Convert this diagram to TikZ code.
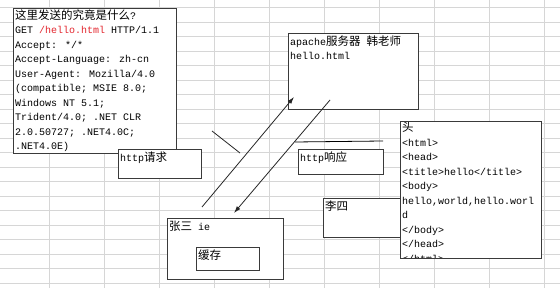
\documentclass[tikz,border=0pt]{standalone}
\usepackage{fontspec}
\setmainfont{Liberation Mono}
\newfontfamily\cjk{Noto Sans CJK SC}
\usetikzlibrary{arrows.meta}
\definecolor{gridgray}{HTML}{D6D6D6}
\definecolor{boxline}{HTML}{3A3A3A}
\definecolor{urlred}{HTML}{E3262E}
\newcommand{\zh}[1]{{\cjk\fontsize{11.5}{14.5}\selectfont #1}}

\begin{document}
\begin{tikzpicture}[
      x=1pt, y=-1pt,
      every node/.style={text=black},
      box/.style={
        draw=boxline, fill=white,
        line width=0.8pt,
        inner sep=0pt, outer sep=0pt,
        anchor=north west
      },
      txt/.style={
        anchor=north west,
        inner xsep=2pt, inner ysep=2.5pt,
        align=left,
        font=\fontsize{10}{14.5}\selectfont
      },
      link/.style={draw=black!85, line width=0.8pt},
      arrow/.style={link, -{Latex[length=7pt,width=4.5pt]}}
    ]
      \fill[white] (0,0) rectangle (560,288);
      \useasboundingbox (0,0) rectangle (560,288);
      % sheet grid
      \foreach \gx in {49,104,...,544}
        \draw[gridgray, line width=1pt] (\gx,0) -- (\gx,288);
      \foreach \gk in {0,...,19}
        \draw[gridgray, line width=1pt] (0,8+14.5*\gk) -- (560,8+14.5*\gk);

      % request
      \node[box, minimum width=163pt, minimum height=145pt] (req) at (13,8) {};
      \node[txt, inner ysep=1.5pt] (reqtxt) at (req.north west) {
        \zh{这里发送的究竟是什么}?\\
        GET {\color{urlred}/hello.html} HTTP/1.1\\
        Accept: */*\\
        Accept-Language: zh-cn\\
        User-Agent: Mozilla/4.0\\
        (compatible; MSIE 8.0;\\
        Windows NT 5.1;\\
        Trident/4.0; .NET CLR\\
        2.0.50727; .NET4.0C;\\
        .NET4.0E)
      };
      \node[box, minimum width=83pt, minimum height=29pt] (reqtag) at (118,149) {};
      \node[txt] (reqtagtxt) at (reqtag.north west) {http\zh{请求}};

      % server
      \node[box, minimum width=130pt, minimum height=76pt] (apache) at (288,33) {};
      \node[txt] (apachetxt) at (apache.north west) {
        apache\zh{服务器} \zh{韩老师}\\
        hello.html
      };

      % response
      \node[box, minimum width=85pt, minimum height=25pt] (resptag) at (298,149) {};
      \node[txt] (resptagtxt) at (resptag.north west) {http\zh{响应}};
      \node[box, minimum width=90pt, minimum height=39pt] (lisi) at (323,198) {};
      \node[txt] (lisitxt) at (lisi.north west) {\zh{李四}};
      \node[box, minimum width=141pt, minimum height=137pt] (resp) at (400,121) {};
      \begin{scope}
        \clip (resp.north west) rectangle (resp.south east);
        \node[txt, inner ysep=1pt] (resptxt) at (resp.north west) {
          \zh{头}\\
          <html>\\
          <head>\\
          <title>hello</title>\\
          <body>\\
          hello,world,hello.worl\\
          d\\
          </body>\\
          </head>\\
          </html>
        };
      \end{scope}
      \draw[boxline, line width=0.8pt] (resp.north west) rectangle (resp.south east);

      % browser
      \node[box, minimum width=116pt, minimum height=61pt] (zhang) at (167,218) {};
      \node[txt] (zhangtxt) at (zhang.north west) {\zh{张三} ie};
      \node[box, minimum width=63pt, minimum height=23pt] (cache) at (196,247) {};
      \node[txt] (cachetxt) at (cache.north west) {\zh{缓存}};

      % connectors
      \coordinate (upfoot) at (202,207);
      \coordinate (uptip) at (294,97);
      \coordinate (downfoot) at (330,100);
      \coordinate (downtip) at (234,213);
      \coordinate (reqmark) at (212,131);
      \coordinate (reqmarkend) at (240,153);
      \coordinate (respmark) at (295,142);
      \coordinate (respmarkend) at (383,141);
      \draw[arrow] (upfoot) -- (uptip);
      \draw[arrow] (downfoot) -- (downtip);
      \draw[link] (reqmark) -- (reqmarkend);
      \draw[link, draw=black] (respmark) -- (respmarkend);
    \end{tikzpicture}
\end{document}
